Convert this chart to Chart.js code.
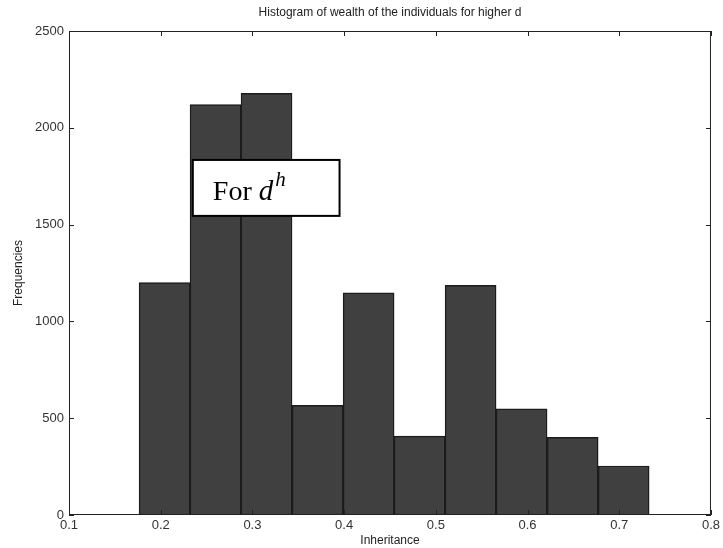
<!DOCTYPE html>
<html>
<head>
<meta charset="utf-8">
<script src="https://cdn.jsdelivr.net/npm/chart.js@4/dist/chart.umd.min.js"></script>
<style>
  html, body { margin: 0; padding: 0; background: #fff; }
  #wrap { width: 723px; height: 548px; }
</style>
</head>
<body>
<div id="wrap"><canvas id="myChart" width="723" height="548"></canvas></div>
<script>
// histogram bins (centre of each bin) and the counts
const binCenters = [0.2042, 0.2598, 0.3154, 0.3711, 0.4267, 0.4823, 0.5379, 0.5935, 0.6492, 0.7048];
const frequencies = [1200, 2120, 2178, 567, 1147, 407, 1186, 549, 401, 253];
const xTicks = [0.1, 0.2, 0.3, 0.4, 0.5, 0.6, 0.7, 0.8];
const xTickLabels = ['0.1', '0.2', '0.3', '0.4', '0.5', '0.6', '0.7', '0.8'];
const yTicks = [0, 500, 1000, 1500, 2000, 2500];
const yTickLabels = ['0', '500', '1000', '1500', '2000', '2500'];

const sans = "'Liberation Sans', Arial, sans-serif";

// box around the plot with MATLAB style inward ticks, plus the "For d^h" label
const boxPlugin = {
    id: 'box',
    afterDraw(chart) {
        const ctx = chart.ctx;
        const a = chart.chartArea;
        const xs = chart.scales.x, ys = chart.scales.y;
        ctx.save();
        ctx.strokeStyle = '#222';
        ctx.lineWidth = 1;
        ctx.strokeRect(a.left + 0.5, a.top + 0.5, a.right - a.left - 1, a.bottom - a.top - 1);
        ctx.beginPath();
        xTicks.forEach(function (v) {
            const px = Math.round(xs.getPixelForValue(v)) + 0.5;
            ctx.moveTo(px, a.top); ctx.lineTo(px, a.top + 5);
            ctx.moveTo(px, a.bottom); ctx.lineTo(px, a.bottom - 5);
        });
        yTicks.forEach(function (v) {
            const py = Math.round(ys.getPixelForValue(v)) + 0.5;
            ctx.moveTo(a.left, py); ctx.lineTo(a.left + 5, py);
            ctx.moveTo(a.right, py); ctx.lineTo(a.right - 5, py);
        });
        ctx.stroke();

        // annotation box
        const x0 = xs.getPixelForValue(0.235), x1 = xs.getPixelForValue(0.395);
        const y0 = ys.getPixelForValue(1834), y1 = ys.getPixelForValue(1545);
        ctx.fillStyle = '#fff';
        ctx.fillRect(x0, y0, x1 - x0, y1 - y0);
        ctx.strokeStyle = '#000';
        ctx.lineWidth = 2;
        ctx.strokeRect(x0, y0, x1 - x0, y1 - y0);
        ctx.fillStyle = '#000';
        ctx.textBaseline = 'alphabetic';
        ctx.textAlign = 'left';
        const base = y0 + 40;
        ctx.font = "28px 'Liberation Serif', 'DejaVu Serif', serif";
        ctx.fillText('For', x0 + 20, base);
        let tx = x0 + 20 + ctx.measureText('For').width + 7;
        ctx.font = "italic 29px 'Liberation Serif', 'DejaVu Serif', serif";
        ctx.fillText('d', tx, base);
        tx += ctx.measureText('d').width + 2;
        ctx.font = "italic 21px 'Liberation Serif', 'DejaVu Serif', serif";
        ctx.fillText('h', tx, base - 14);
        ctx.restore();
    }
};

const ctx = document.getElementById('myChart').getContext('2d');
const myChart = new Chart(ctx, {
    type: 'bar',
    data: {
        datasets: [{
            label: 'Frequencies',
            data: binCenters.map(function (c, i) { return { x: c, y: frequencies[i] }; }),
            backgroundColor: '#404040',
            borderColor: '#1c1c1c',
            borderWidth: 1.5,
            barPercentage: 1,
            categoryPercentage: 1
        }]
    },
    plugins: [boxPlugin],
    options: {
        responsive: false,
        animation: false,
        layout: { padding: { top: 0, right: 10, left: 0, bottom: 0 } },
        plugins: {
            legend: { display: false },
            tooltip: { enabled: false },
            title: {
                display: true,
                fullSize: false,
                text: 'Histogram of wealth of the individuals for higher d',
                color: '#222',
                font: { family: sans, size: 12, weight: 'normal', lineHeight: 1.2 },
                padding: { top: 5, bottom: 11.6 }
            }
        },
        scales: {
            x: {
                type: 'linear',
                min: 0.1,
                max: 0.8,
                offset: false,
                afterBuildTicks: function (s) { s.ticks = xTicks.map(function (v) { return { value: v }; }); },
                afterFit: function (s) { s.height = 33; },
                grid: { display: false, drawTicks: false },
                border: { display: false },
                ticks: {
                    padding: 3,
                    maxRotation: 0,
                    color: '#333',
                    font: { family: sans, size: 13 },
                    callback: function (v) { return xTickLabels[xTicks.indexOf(v)]; }
                },
                title: {
                    display: true,
                    text: 'Inheritance',
                    color: '#222',
                    font: { family: sans, size: 12, lineHeight: 1.2 },
                    padding: { top: 0, bottom: 0 }
                }
            },
            y: {
                min: 0,
                max: 2500,
                afterBuildTicks: function (s) { s.ticks = yTicks.map(function (v) { return { value: v }; }); },
                afterFit: function (s) { s.width = 69; },
                grid: { display: false, drawTicks: false },
                border: { display: false },
                ticks: {
                    padding: 5,
                    color: '#333',
                    font: { family: sans, size: 13 },
                    callback: function (v) { return yTickLabels[yTicks.indexOf(v)]; }
                },
                title: {
                    display: true,
                    text: 'Frequencies',
                    color: '#222',
                    font: { family: sans, size: 12, lineHeight: 1.2 },
                    padding: { top: 11, bottom: 0 }
                }
            }
        }
    }
});
</script>
</body>
</html>
